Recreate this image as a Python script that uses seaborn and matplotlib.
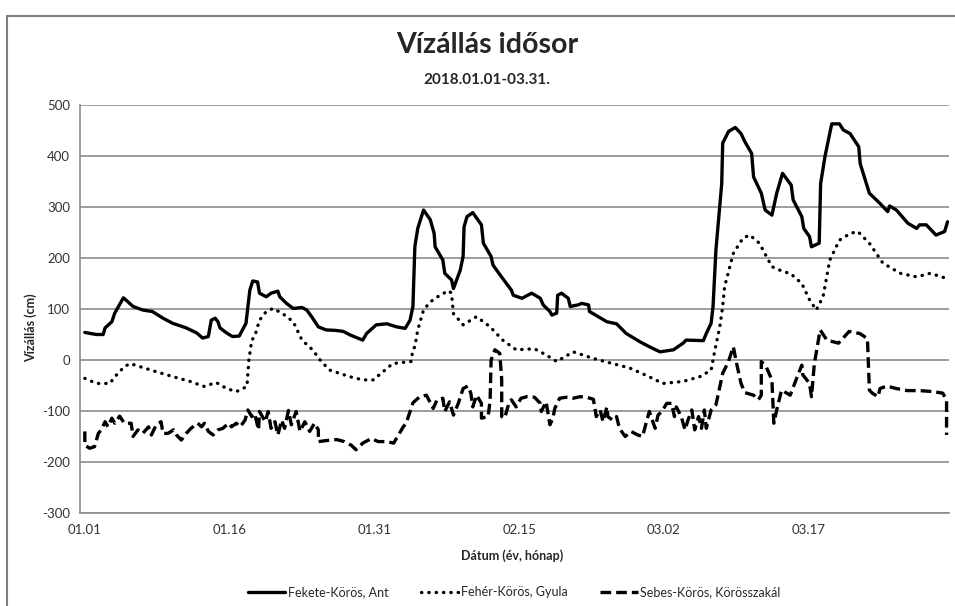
import matplotlib
matplotlib.use("Agg")
import matplotlib.pyplot as plt
import seaborn as sns
from matplotlib.lines import Line2D

# Data: x = days since 01.01 (2018), y = water level in cm
fekete_x = [0, 1.2, 1.9, 2.1, 2.8, 3.1, 4.0, 5, 6, 7, 8.1, 9.1, 10.5, 11.6, 12.2, 12.8, 13.1, 13.5, 13.8, 14,
            14.7, 15.3, 16, 16.7, 17.1, 17.4, 17.9, 18.1, 18.8, 19.3, 20, 20.2, 20.9, 21.6, 22.5, 23, 23.5, 24.2,
            25, 26, 26.8, 27.5, 28.8, 29.2, 30.2, 31.3, 32.3, 33.2, 33.7, 34.0, 34.2, 34.5, 35.1, 35.8, 36.2,
            36.3, 37.1, 37.3, 38, 38.2, 38.9, 39.2, 39.3, 39.6, 40.2, 41.1, 41.3, 42.1, 42.3, 43.3, 44.2, 44.4,
            45.3, 46.3, 47.2, 47.5, 48.2, 48.4, 48.9, 49.0, 49.4, 50.1, 50.3, 51.1, 51.5, 52.2, 52.3, 53.2, 54.1,
            55.1, 56.1, 57.5, 58.5, 59.6, 61, 62, 62.3, 64.1, 64.4, 64.9, 65.1, 65.4, 66, 66.1, 66.7, 67.4, 68,
            68.4, 69.1, 69.3, 70.1, 70.5, 71.2, 71.7, 72.3, 73.2, 73.4, 74.3, 74.5, 75.1, 75.3, 76.1, 76.25,
            76.7, 77.2, 77.4, 78.2, 78.6, 79.3, 80.2, 80.35, 81.3, 82.4, 83.2, 83.4, 84.1, 85.3, 86.2, 86.5,
            87.2, 88.2, 89.1, 89.4]
fekete_y = [54, 50, 50, 63, 75, 92, 122, 105, 98, 95, 82, 72, 63, 53, 43, 46, 78, 82, 75, 63,
            53, 46, 47, 72, 137, 155, 153, 131, 124, 131, 135, 124, 111, 101, 103, 98, 85, 65,
            59, 58, 56, 49, 39, 52, 69, 71, 65, 62, 78, 105, 222, 258, 294, 275, 248,
            222, 196, 170, 157, 140, 176, 203, 261, 281, 289, 265, 229, 203, 186, 160, 137, 127,
            121, 131, 121, 108, 95, 88, 92, 127, 131, 121, 105, 108, 111, 108, 95, 85, 75,
            71, 52, 36, 26, 16, 20, 33, 39, 38, 52, 72, 105, 216, 346, 425, 448, 456, 444,
            428, 405, 359, 327, 294, 284, 327, 366, 343, 314, 281, 258, 242, 222, 229, 346,
            399, 444, 463, 463, 451, 444, 418, 385, 327, 307, 291, 302, 294, 268, 258, 265,
            265, 245, 252, 271]

feher_x = [0, 1.2, 2.6, 3.1, 4.1, 4.7, 5.7, 7.4, 9.2, 10.9, 12.4, 13.6, 14.7, 15.7, 16.8, 17.0, 17.3, 17.6,
           18.1, 18.8, 19.5, 20.5, 21.6, 22.5, 23.6, 24.5, 25.4, 27.5, 28.8, 29.9, 30.9, 31.9, 33.8, 34.0,
           34.2, 34.5, 35.1, 35.8, 36.8, 37.7, 38.0, 38.2, 39.2, 40.6, 42, 43.3, 44.7, 46.6, 47.8, 48.9,
           50.6, 52.7, 54.7, 56.5, 58.5, 59.9, 62, 63.7, 64.9, 65.3, 65.8, 66.1, 66.3, 67.2, 68.2, 68.9,
           69.9, 71.2, 72.4, 73.1, 74.3, 75.1, 75.8, 76.5, 77.2, 78.2, 79.3, 80.1, 81.3, 82.7, 84.5, 86.2,
           87.6, 89.3]
feher_y = [-36, -46, -46, -33, -13, -7, -13, -23, -33, -42, -52, -44, -56, -62, -52, 0, 39, 46,
           78, 95, 101, 91, 75, 39, 20, -3, -20, -33, -39, -39, -23, -7, -3, 20,
           26, 59, 98, 114, 127, 136, 131, 91, 69, 85, 65, 39, 20, 22, 10, -3,
           16, 3, -7, -16, -33, -46, -42, -33, -20, 20, 65, 105, 144, 209, 239, 245,
           229, 183, 173, 170, 150, 118, 98, 124, 196, 235, 248, 252, 229, 190, 170, 163,
           170, 160]

sebes_x = [0, 0, 0.5, 1, 1.4, 1.7, 2.1, 2.4, 2.8, 3.1, 3.6, 4.1, 4.8, 5, 5.5, 6, 6.6, 6.9, 7.4, 7.9, 8.1,
           8.6, 9.2, 9.5, 10, 10.5, 11, 11.7, 12.1, 12.4, 12.8, 13.3, 13.8, 14.3, 14.9, 15.2, 15.7, 16.1,
           16.6, 16.9, 17.3, 17.6, 18, 18.1, 18.7, 19, 19.3, 19.7, 20, 20.4, 20.7, 21.1, 21.4, 21.9, 22.3,
           22.8, 23.3, 23.8, 24.2, 24.2, 25, 26.1, 26.9, 27.6, 28.1, 28.8, 29.7, 30.4, 31.3, 32, 32.5, 33,
           33.3, 33.7, 34, 34.7, 35.4, 36.1, 36.5, 37.1, 37.3, 37.8, 38.2, 38.7, 39.2, 39.7, 40, 40.2, 40.6,
           41.1, 41.1, 41.8, 42, 42.1, 42.5, 43, 43.2, 43.2, 43.5, 43.9, 44.2, 44.7, 45.2, 45.8, 46.6, 47.2,
           47.3, 47.8, 48.2, 48.5, 48.7, 49.2, 49.9, 50.6, 51.3, 52, 52.7, 53, 53.4, 53.7, 54.1, 54.2, 54.7,
           55.1, 55.4, 56, 56.6, 57.3, 57.8, 58.2, 58.5, 59.1, 59.4, 59.8, 60.3, 60.8, 61.1, 61.3, 61.8,
           62.2, 62.5, 62.9, 63.2, 63.6, 63.9, 64.2, 64.4, 64.9, 65.4, 65.8, 66.1, 66.7, 67.2, 67.5, 68,
           68.4, 69.3, 69.8, 70.1, 70.1, 70.6, 71.2, 71.4, 71.7, 72.2, 73.1, 73.7, 74.3, 74.4, 75.1, 75.3,
           75.6, 76.2, 76.9, 78.1, 79.2, 80.3, 81.1, 81.3, 81.6, 82.2, 82.4, 83.1, 84.1, 85.2, 86.5, 87.9,
           88.9, 89.3, 89.3]
sebes_y = [-140, -167, -173, -170, -144, -137, -121, -131, -114, -124, -110, -124, -124, -150, -137, -144,
           -131, -147, -127, -121, -144, -144, -137, -147, -157, -144, -134, -124, -131, -124, -140, -147,
           -137, -134, -124, -131, -124, -131, -118, -98, -111, -105, -137, -101, -121, -101, -134, -121,
           -147, -118, -134, -99, -127, -101, -140, -121, -140, -124, -137, -160, -158, -156, -160, -167,
           -176, -163, -154, -160, -160, -163, -147, -131, -124, -101, -84, -72, -69, -95, -78, -75, -101,
           -82, -108, -85, -56, -51, -65, -92, -69, -85, -114, -111, -78, 0, 20, 13, -39, -111, -114, -88,
           -78, -92, -75, -72, -73, -85, -101, -82, -127, -114, -95, -75, -73, -75, -72, -73, -77, -111,
           -98, -121, -92, -111, -118, -111, -134, -150, -140, -147, -150, -121, -101, -134, -108, -101,
           -85, -85, -111, -92, -111, -137, -118, -98, -137, -111, -134, -98, -134, -98, -88, -52, -26, -3,
           26, -3, -46, -64, -69, -78, -69, -3, -13, -39, -124, -98, -59, -69, -39, -10, -29, -46, -72, -7,
           59, 39, 33, 56, 52, 42, -59, -65, -72, -56, -51, -56, -60, -60, -62, -65, -78, -147]

tick_days = [0, 15, 30, 45, 60, 75]
tick_labels = ["01.01", "01.16", "01.31", "02.15", "03.02", "03.17"]

sns.set_style("white")
plt.rcParams["font.family"] = ["Lato", "DejaVu Sans"]
plt.rcParams["axes.unicode_minus"] = False

fig = plt.figure(figsize=(9.55, 6.06), dpi=100)
ax = fig.add_axes([80 / 955, 1 - 513 / 606, 868.5 / 955, 408 / 606])

sns.lineplot(x=fekete_x, y=fekete_y, sort=False, estimator=None, color="black", lw=2.4,
             solid_joinstyle="round", ax=ax, label="Fekete-Körös, Ant")
sns.lineplot(x=feher_x, y=feher_y, sort=False, estimator=None, color="black", lw=2.4,
             linestyle=(0, (0.1, 2.1)), dash_capstyle="round", ax=ax, label="Fehér-Körös, Gyula")
sns.lineplot(x=sebes_x, y=sebes_y, sort=False, estimator=None, color="black", lw=2.4,
             linestyle=(0, (3.2, 1.5)), ax=ax, label="Sebes-Körös, Körösszakál")

ax.set_xlim(-0.5, 89.5)
ax.set_ylim(-300, 500)
ax.set_yticks(range(-300, 501, 100))
ax.set_xticks(tick_days)
ax.set_xticklabels(tick_labels)
ax.tick_params(axis="both", labelsize=9.5, colors="#333333")
ax.tick_params(axis="y", length=3, width=1, color="#8c8c8c", pad=4)
ax.tick_params(axis="x", length=0, pad=8)
ax.grid(axis="y", color="#8c8c8c", lw=1.2)
for s in ["top", "right"]:
    ax.spines[s].set_visible(False)
for s in ["left", "bottom"]:
    ax.spines[s].set_color("#8c8c8c")
    ax.spines[s].set_linewidth(1.2)
ax.set_xlabel("")
ax.set_ylabel("")

fig.text(487 / 955, 1 - 45 / 606, "Vízállás idősor", ha="center", va="center",
         fontsize=20.5, fontweight="bold")
fig.text(487 / 955, 1 - 80 / 606, "2018.01.01-03.31.", ha="center", va="center",
         fontsize=11, fontweight="bold")
fig.text(512 / 955, 1 - 556 / 606, "Dátum (év, hónap)", ha="center", va="center",
         fontsize=9, fontweight="bold")
fig.text(31 / 955, 1 - 328 / 606, "Vízállás (cm)", ha="center", va="center",
         rotation=90, fontsize=9, fontweight="bold")

handles, labels = ax.get_legend_handles_labels()
ax.get_legend().remove()
fig.legend(handles, labels, loc="center", bbox_to_anchor=(514 / 955, 1 - 592 / 606), ncol=3,
           frameon=False, fontsize=9, handlelength=3.0, columnspacing=2.6, handletextpad=0.2)

# chart border
fig.add_artist(Line2D([7 / 955, 7 / 955], [0, 1 - 16 / 606], color="#7f7f7f", lw=1.5))
fig.add_artist(Line2D([7 / 955, 1], [1 - 16 / 606, 1 - 16 / 606], color="#7f7f7f", lw=1.5))

fig.savefig("out.png", dpi=100)
